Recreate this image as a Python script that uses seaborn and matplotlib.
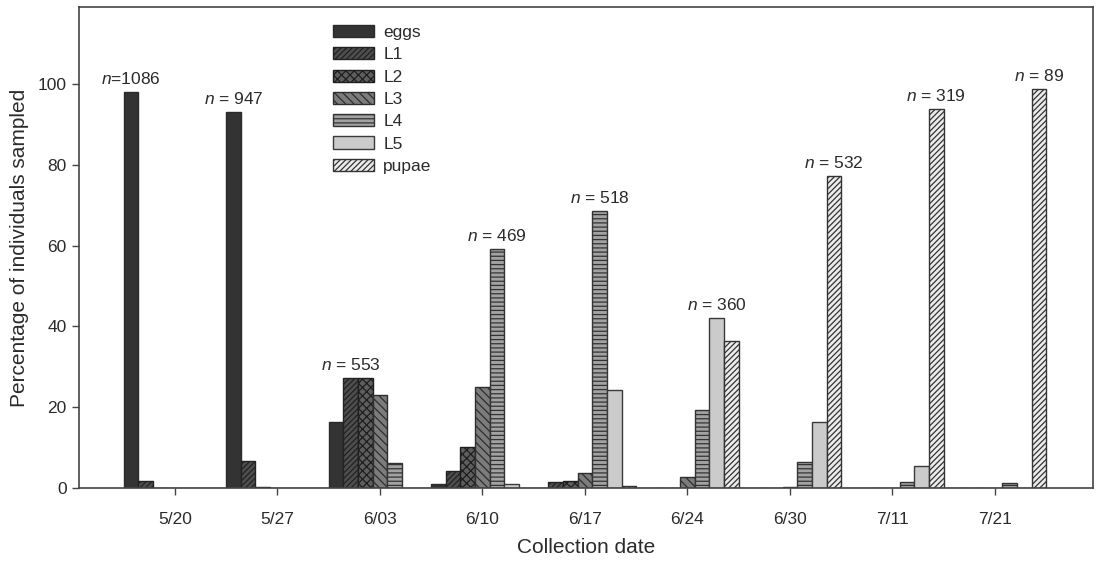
import numpy as np
import pandas as pd
import matplotlib
matplotlib.use('Agg')
import matplotlib.pyplot as plt
import matplotlib.patches as mpatches
import seaborn as sns

# values (percent of individuals per stage)
dates = ['5/20', '5/27', '6/03', '6/10', '6/17', '6/24', '6/30', '7/11', '7/21']
stages = ['eggs', 'L1', 'L2', 'L3', 'L4', 'L5', 'pupae']
eggs = [98.0, 93.0, 16.3, 1.0, 0, 0, 0, 0, 0]
L1 = [1.7, 6.8, 27.3, 4.1, 1.6, 0, 0, 0, 0]
L2 = [0, 0.2, 27.2, 10.1, 1.7, 0, 0, 0, 0]
L3 = [0, 0, 23.1, 25.1, 3.7, 2.7, 0.2, 0, 0]
L4 = [0, 0, 6.2, 59.2, 68.5, 19.2, 6.4, 1.5, 1.2]
L5 = [0, 0, 0, 0.9, 24.3, 42.0, 16.4, 5.4, 0]
pupae = [0, 0, 0, 0, 0.5, 36.5, 77.3, 93.7, 98.8]
n_sampled = [1086, 947, 553, 469, 518, 360, 532, 319, 89]

faces = ['#333333', '#4e4e4e', '#5e5e5e', '#7c7c7c', '#a2a2a2', '#cbcbcb', '#ececec']
edges = ['#2a2a2a', '#222222', '#1e1e1e', '#2e2e2e', '#333333', '#3a3a3a', '#333333']
hatches = ['', '//////', 'xxxx', '\\\\\\\\', '----', '', '//////']

series = [eggs, L1, L2, L3, L4, L5, pupae]
df = pd.DataFrame({s: v for s, v in zip(stages, series)})
df['date'] = dates
long = df.melt(id_vars='date', var_name='stage', value_name='pct')

sns.set_style('ticks')
plt.rcParams['font.family'] = ['Liberation Sans', 'DejaVu Sans']
plt.rcParams['mathtext.fontset'] = 'custom'
plt.rcParams['mathtext.it'] = 'Liberation Sans:italic'
plt.rcParams['mathtext.rm'] = 'Liberation Sans'
plt.rcParams['hatch.linewidth'] = 0.9
txt = '#2b2b2b'

fig = plt.figure(figsize=(11.02, 5.61), dpi=100)
ax = fig.add_axes([0.0717, 0.130, 0.92, 0.8575])

sns.barplot(data=long, x='date', y='pct', hue='stage', hue_order=stages,
            order=dates, palette=faces, saturation=1, width=1.0,
            errorbar=None, linewidth=1.0, edgecolor='#2a2a2a',
            legend=False, ax=ax)

for cont, ec, h in zip(ax.containers, edges, hatches):
    for bar in cont:
        bar.set_edgecolor(ec)
        bar.set_hatch(h)

# n labels above the tallest bar of each date
vals = np.array(series)
for i, n in enumerate(n_sampled):
    j = int(np.argmax(vals[:, i]))
    x = i + (j - 3) / 7
    y = vals[j, i] + 1.2
    lab = f'$n$={n}' if n >= 1000 else f'$n$ = {n}'
    ax.text(x, y, lab, ha='center', va='bottom', fontsize=12.5, color=txt)

ax.set_xlim(-0.935, 8.955)
ax.set_ylim(0, 119)
ax.set_yticks([0, 20, 40, 60, 80, 100])
ax.set_xlabel('Collection date', fontsize=15, color=txt, labelpad=8)
ax.set_ylabel('Percentage of individuals sampled', fontsize=15, color=txt, labelpad=6)
ax.tick_params(axis='both', labelsize=12.5, colors='#444444', labelcolor=txt,
               length=5, width=1, direction='out', pad=4)
ax.tick_params(axis='x', pad=12)
for sp in ax.spines.values():
    sp.set_visible(True)
    sp.set_color('#444444')
    sp.set_linewidth(1.2)

handles = [mpatches.Patch(facecolor=f, edgecolor=e, hatch=h, linewidth=1.0, label=s)
           for f, e, h, s in zip(faces, edges, hatches, stages)]
ax.legend(handles=handles, loc='upper left', bbox_to_anchor=(0.235, 0.995),
          frameon=False, fontsize=12.5, handlelength=2.35, handleheight=0.7,
          handletextpad=0.55, labelspacing=0.41, labelcolor=txt)

fig.savefig('out.png', dpi=100)
